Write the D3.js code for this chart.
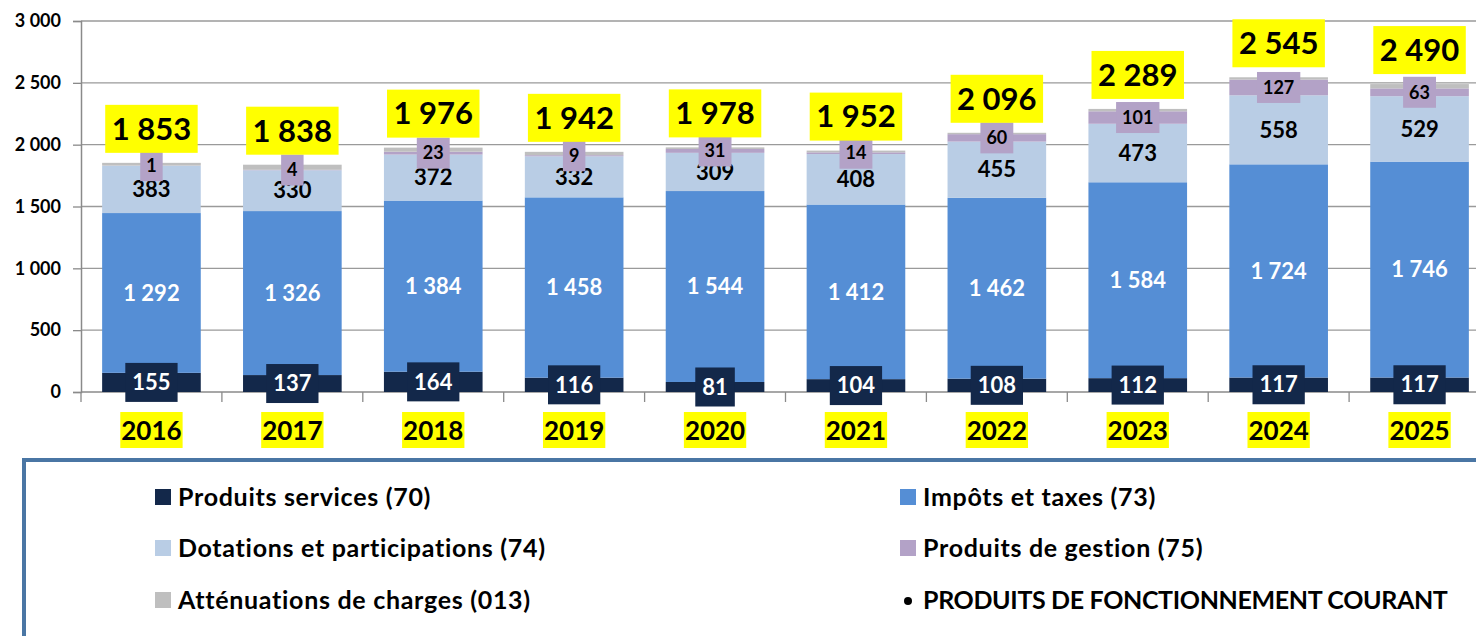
<!DOCTYPE html>
<html>
<head>
<meta charset="utf-8">
<script src="https://cdn.jsdelivr.net/npm/d3@7"></script>
<style>
  html, body { margin: 0; padding: 0; background: #fff; }
  svg { display: block; font-family: Lato, "Open Sans", sans-serif; font-weight: bold; }
</style>
</head>
<body>
<div id="chart"></div>
<script>
// values (k€)
var years        = ["2016", "2017", "2018", "2019", "2020", "2021", "2022", "2023", "2024", "2025"];
var services     = [155, 137, 164, 116, 81, 104, 108, 112, 117, 117];
var impots       = [1292, 1326, 1384, 1458, 1544, 1412, 1462, 1584, 1724, 1746];
var dotations    = [383, 330, 372, 332, 309, 408, 455, 473, 558, 529];
var gestion      = [1, 4, 23, 9, 31, 14, 60, 101, 127, 63];
var attenuations = [22, 41, 33, 27, 13, 14, 11, 19, 19, 35];
var totals       = [1853, 1838, 1976, 1942, 1978, 1952, 2096, 2289, 2545, 2490];
var yTicks       = [0, 500, 1000, 1500, 2000, 2500, 3000];

var seriesNames  = ["Produits services (70)", "Impôts et taxes (73)", "Dotations et participations (74)",
                    "Produits de gestion (75)", "Atténuations de charges (013)"];
var seriesColors = ["#13284a", "#558ed5", "#b9cde5", "#b3a2c7", "#bfbfbf"];
var totalName    = "PRODUITS DE FONCTIONNEMENT COURANT";

var W = 1476, H = 636;
var margin = {left: 81, top: 21, bottom: 392};
var fr = d3.formatLocale({decimal: ",", thousands: " ", grouping: [3], currency: ["", " €"]});
var fmt = fr.format(",d");

var table = years.map(function(y, i) {
    return {year: y, s0: services[i], s1: impots[i], s2: dotations[i], s3: gestion[i], s4: attenuations[i], total: totals[i]};
});
var keys = ["s0", "s1", "s2", "s3", "s4"];
var stacked = d3.stack().keys(keys)(table);

var svg = d3.select("#chart").append("svg")
    .attr("width", W).attr("height", H);

var x = d3.scaleBand().domain(years).range([margin.left, 1490]).paddingInner(0.3).paddingOuter(0.15);
var y = d3.scaleLinear().domain([0, 3000]).range([margin.bottom, margin.top]);

// gridlines
svg.append("g").selectAll("line")
    .data(yTicks.slice(1))
    .enter().append("line")
    .attr("x1", margin.left).attr("x2", W)
    .attr("y1", function(d) { return y(d); }).attr("y2", function(d) { return y(d); })
    .attr("stroke", "#9a9a9a").attr("stroke-width", 1.3);

// y axis
var yAxis = d3.axisLeft(y).tickValues(yTicks).tickSize(8).tickFormat(fmt);
var yG = svg.append("g").attr("transform", "translate(" + margin.left + ",0)").call(yAxis);
yG.select(".domain").attr("stroke", "#8a8a8a").attr("stroke-width", 1.5);
yG.selectAll(".tick line").attr("stroke", "#8a8a8a").attr("stroke-width", 1.3);
yG.selectAll(".tick text").attr("x", -20).attr("fill", "#000")
    .style("font-size", "18px").style("font-family", "Lato").style("font-weight", "bold");

// x axis line + tick marks between categories
var step = x.step();
var xG = svg.append("g");
xG.append("line").attr("x1", margin.left).attr("x2", W)
    .attr("y1", y(0)).attr("y2", y(0)).attr("stroke", "#8a8a8a").attr("stroke-width", 1.5);
xG.selectAll("line.tk").data(years).enter().append("line").attr("class", "tk")
    .attr("x1", function(d) { return x(d) + x.bandwidth() / 2 - step / 2; })
    .attr("x2", function(d) { return x(d) + x.bandwidth() / 2 - step / 2; })
    .attr("y1", y(0)).attr("y2", y(0) + 10)
    .attr("stroke", "#8a8a8a").attr("stroke-width", 1.3);

// stacked bars
svg.append("g").selectAll("g")
    .data(stacked)
    .enter().append("g")
    .attr("fill", function(d, i) { return seriesColors[i]; })
  .selectAll("rect")
    .data(function(d) { return d; })
    .enter().append("rect")
    .attr("x", function(d) { return x(d.data.year); })
    .attr("width", x.bandwidth())
    .attr("y", function(d) { return y(d[1]); })
    .attr("height", function(d) { return y(d[0]) - y(d[1]); });

function mid(d) { return y((d[0] + d[1]) / 2); }
function cx(d) { return x(d.data.year) + x.bandwidth() / 2; }

// label with optional background box
function boxLabels(series, size, fg, bg, padX, boxH, getY) {
    var g = svg.append("g").selectAll("g").data(series).enter().append("g");
    var rects = g.append("rect").attr("fill", bg || "none");
    var texts = g.append("text")
        .attr("x", function(d) { return cx(d); })
        .attr("y", function(d) { return getY(d); })
        .attr("dy", "0.35em")
        .attr("text-anchor", "middle")
        .attr("fill", fg)
        .style("font-size", size + "px")
        .text(function(d) { return fmt(d[1] - d[0]); });
    if (bg) {
        texts.each(function(d) {
            var w = this.getComputedTextLength();
            d3.select(this.parentNode).select("rect")
                .attr("x", cx(d) - w / 2 - padX).attr("width", w + 2 * padX)
                .attr("y", getY(d) - boxH / 2).attr("height", boxH);
        });
    }
}

boxLabels(stacked[2], 22, "#000", null, 0, 0, mid);
boxLabels(stacked[1], 22, "#fff", null, 0, 0, mid);
boxLabels(stacked[0], 22, "#fff", "#13284a", 7, 39, mid);
boxLabels(stacked[3], 18, "#000", "#b3a2c7", 6, 31, mid);

// totals
var tg = svg.append("g").selectAll("g").data(table).enter().append("g");
tg.append("rect").attr("fill", "#ffff00");
tg.append("text")
    .attr("x", function(d) { return x(d.year) + x.bandwidth() / 2; })
    .attr("y", function(d) { return y(d.total) - 34; })
    .attr("dy", "0.35em")
    .attr("text-anchor", "middle")
    .style("font-size", "31px")
    .text(function(d) { return fmt(d.total); })
    .each(function(d) {
        var w = this.getComputedTextLength();
        d3.select(this.parentNode).select("rect")
            .attr("x", x(d.year) + x.bandwidth() / 2 - w / 2 - 6.5).attr("width", w + 13)
            .attr("y", y(d.total) - 58).attr("height", 48);
    });

// year labels
var yl = svg.append("g").selectAll("g").data(years).enter().append("g");
yl.append("rect").attr("fill", "#ffff00");
yl.append("text")
    .attr("x", function(d) { return x(d) + x.bandwidth() / 2; })
    .attr("y", 431)
    .attr("dy", "0.35em")
    .attr("text-anchor", "middle")
    .style("font-size", "26px")
    .text(function(d) { return d; })
    .each(function(d) {
        var w = this.getComputedTextLength();
        d3.select(this.parentNode).select("rect")
            .attr("x", x(d) + x.bandwidth() / 2 - w / 2 - 1).attr("width", w + 2)
            .attr("y", 412).attr("height", 36);
    });

// legend
svg.append("rect")
    .attr("x", 24).attr("y", 460).attr("width", W + 20).attr("height", 300)
    .attr("fill", "#fff").attr("stroke", "#4a76a4").attr("stroke-width", 4);

var legendItems = [
    {name: seriesNames[0], color: seriesColors[0], col: 0, row: 0},
    {name: seriesNames[1], color: seriesColors[1], col: 1, row: 0},
    {name: seriesNames[2], color: seriesColors[2], col: 0, row: 1},
    {name: seriesNames[3], color: seriesColors[3], col: 1, row: 1},
    {name: seriesNames[4], color: seriesColors[4], col: 0, row: 2},
    {name: totalName, color: null, col: 1, row: 2}
];
var colX = [155, 900], rowY = [497, 548, 600];
var lg = svg.append("g").selectAll("g").data(legendItems).enter().append("g")
    .attr("transform", function(d) { return "translate(" + colX[d.col] + "," + rowY[d.row] + ")"; });
lg.filter(function(d) { return d.color; }).append("rect")
    .attr("x", 0).attr("y", -8).attr("width", 16).attr("height", 16)
    .attr("fill", function(d) { return d.color; });
lg.filter(function(d) { return !d.color; }).append("circle")
    .attr("cx", 8).attr("cy", 1).attr("r", 4).attr("fill", "#000");
lg.append("text")
    .attr("x", 23).attr("dy", "0.35em")
    .style("font-size", "25px")
    .style("letter-spacing", function(d) { return d.color ? "0.7px" : "-0.35px"; })
    .text(function(d) { return d.name; });
</script>
</body>
</html>
